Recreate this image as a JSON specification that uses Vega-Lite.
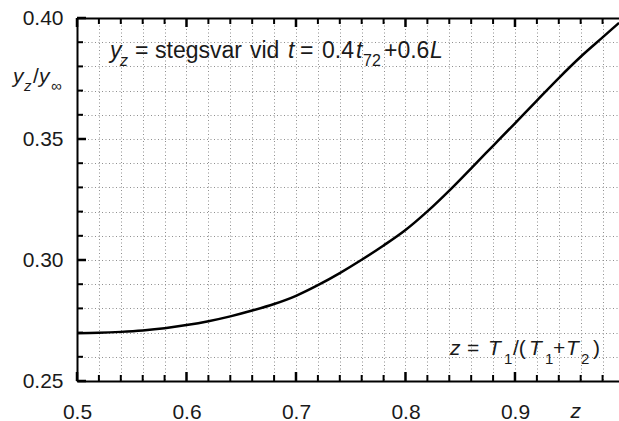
{
  "$schema": "https://vega.github.io/schema/vega-lite/v6.json",
  "width": 542,
  "height": 363,
  "autosize": {"type": "none"},
  "padding": {"left": 77, "top": 18, "right": 0, "bottom": 40},
  "background": "white",
  "config": {
    "view": {"stroke": null},
    "text": {"font": "Liberation Sans", "fontSize": 23, "align": "left", "baseline": "alphabetic", "color": "#1a1a1a"},
    "axis": {
      "labelFont": "Liberation Sans",
      "labelFontSize": 21,
      "labelColor": "#1a1a1a",
      "labelFlush": false,
      "labelOverlap": false,
      "domainColor": "black",
      "domainWidth": 2,
      "gridColor": "#8f8f8f",
      "gridDash": [1, 2.5],
      "gridWidth": 1
    }
  },
  "datasets": {
    "zMajor": [{"v": 0.5}, {"v": 0.6}, {"v": 0.7}, {"v": 0.8}, {"v": 0.9}],
    "zMinor": [{"v": 0.52}, {"v": 0.54}, {"v": 0.56}, {"v": 0.58}, {"v": 0.62}, {"v": 0.64}, {"v": 0.66}, {"v": 0.68}, {"v": 0.72}, {"v": 0.74}, {"v": 0.76}, {"v": 0.78}, {"v": 0.82}, {"v": 0.84}, {"v": 0.86}, {"v": 0.88}, {"v": 0.92}, {"v": 0.94}, {"v": 0.96}, {"v": 0.98}],
    "rMajor": [{"v": 0.25}, {"v": 0.3}, {"v": 0.35}, {"v": 0.4}],
    "rMinor": [{"v": 0.26}, {"v": 0.27}, {"v": 0.28}, {"v": 0.29}, {"v": 0.31}, {"v": 0.32}, {"v": 0.33}, {"v": 0.34}, {"v": 0.36}, {"v": 0.37}, {"v": 0.38}, {"v": 0.39}]
  },
  "resolve": {"axis": {"x": "independent", "y": "independent"}},
  "layer": [
    {
      "data": {
        "values": [
          {"z": 0.5, "r": 0.2697},
          {"z": 0.52, "r": 0.2699},
          {"z": 0.54, "r": 0.2703},
          {"z": 0.56, "r": 0.2709},
          {"z": 0.58, "r": 0.2718},
          {"z": 0.6, "r": 0.2731},
          {"z": 0.62, "r": 0.2747},
          {"z": 0.64, "r": 0.2767},
          {"z": 0.66, "r": 0.2791},
          {"z": 0.68, "r": 0.2818},
          {"z": 0.7, "r": 0.2852},
          {"z": 0.72, "r": 0.2896},
          {"z": 0.74, "r": 0.2946},
          {"z": 0.76, "r": 0.3001},
          {"z": 0.78, "r": 0.306},
          {"z": 0.8, "r": 0.3124},
          {"z": 0.82, "r": 0.3201},
          {"z": 0.84, "r": 0.3287},
          {"z": 0.86, "r": 0.3379},
          {"z": 0.88, "r": 0.3472},
          {"z": 0.9, "r": 0.3565},
          {"z": 0.92, "r": 0.3659},
          {"z": 0.94, "r": 0.3752},
          {"z": 0.96, "r": 0.384},
          {"z": 0.98, "r": 0.392},
          {"z": 0.995, "r": 0.398}
        ]
      },
      "mark": {"type": "line", "color": "black", "strokeWidth": 2.5, "interpolate": "monotone"},
      "encoding": {
        "x": {
          "field": "z",
          "type": "quantitative",
          "scale": {"domain": [0.5, 0.995], "nice": false, "zero": false},
          "axis": {
            "orient": "bottom",
            "values": [0.5, 0.6, 0.7, 0.8, 0.9],
            "format": ".1f",
            "ticks": false,
            "labelBaseline": "top",
            "labelPadding": 20,
            "grid": false,
            "title": "z",
            "titleFont": "Liberation Sans",
            "titleFontSize": 21,
            "titleFontStyle": "italic",
            "titleFontWeight": "normal",
            "titleColor": "#1a1a1a",
            "titleAlign": "left",
            "titleBaseline": "alphabetic",
            "titleX": 493,
            "titleY": 36
          }
        },
        "y": {
          "field": "r",
          "type": "quantitative",
          "scale": {"domain": [0.25, 0.4], "nice": false, "zero": false},
          "axis": {
            "orient": "left",
            "values": [0.25, 0.3, 0.35, 0.4],
            "format": ".2f",
            "ticks": false,
            "labelBaseline": "middle",
            "labelPadding": 14,
            "grid": false,
            "title": null
          }
        }
      }
    },
    {
      "data": {"name": "zMajor"},
      "mark": {"type": "rule", "color": "black", "strokeWidth": 2.5, "y2Offset": -9},
      "encoding": {"x": {"field": "v", "type": "quantitative", "axis": null}, "y": {"datum": 0.25, "type": "quantitative", "axis": null}, "y2": {"datum": 0.25}}
    },
    {
      "data": {"name": "zMinor"},
      "mark": {"type": "rule", "color": "black", "strokeWidth": 2, "y2Offset": -6},
      "encoding": {"x": {"field": "v", "type": "quantitative", "axis": null}, "y": {"datum": 0.25, "type": "quantitative", "axis": null}, "y2": {"datum": 0.25}}
    },
    {
      "data": {"name": "zMajor"},
      "mark": {"type": "rule", "color": "black", "strokeWidth": 2.5, "y2Offset": 9},
      "encoding": {"x": {"field": "v", "type": "quantitative", "axis": null}, "y": {"datum": 0.4, "type": "quantitative", "axis": null}, "y2": {"datum": 0.4}}
    },
    {
      "data": {"name": "zMinor"},
      "mark": {"type": "rule", "color": "black", "strokeWidth": 2, "y2Offset": 6},
      "encoding": {"x": {"field": "v", "type": "quantitative", "axis": null}, "y": {"datum": 0.4, "type": "quantitative", "axis": null}, "y2": {"datum": 0.4}}
    },
    {
      "data": {"name": "rMajor"},
      "mark": {"type": "rule", "color": "black", "strokeWidth": 2.5, "x2Offset": 9},
      "encoding": {"x": {"datum": 0.5, "type": "quantitative", "axis": null}, "x2": {"datum": 0.5}, "y": {"field": "v", "type": "quantitative", "axis": null}}
    },
    {
      "data": {"name": "rMinor"},
      "mark": {"type": "rule", "color": "black", "strokeWidth": 2, "x2Offset": 6},
      "encoding": {"x": {"datum": 0.5, "type": "quantitative", "axis": null}, "x2": {"datum": 0.5}, "y": {"field": "v", "type": "quantitative", "axis": null}}
    },
    {
      "data": {"values": [{}]},
      "mark": {"type": "text", "text": "y", "fontStyle": "italic", "dx": 0},
      "encoding": {
        "x": {
          "datum": 0.53014,
          "type": "quantitative",
          "axis": {
            "orient": "bottom",
            "values": [0.5, 0.52, 0.54, 0.56, 0.58, 0.6, 0.62, 0.64, 0.66, 0.68, 0.7, 0.72, 0.74, 0.76, 0.78, 0.8, 0.82, 0.84, 0.86, 0.88, 0.9, 0.92, 0.94, 0.96, 0.98],
            "ticks": false,
            "labels": false,
            "domain": false,
            "grid": true,
            "title": null
          }
        },
        "y": {
          "datum": 0.3835,
          "type": "quantitative",
          "axis": {
            "orient": "left",
            "values": [0.25, 0.26, 0.27, 0.28, 0.29, 0.3, 0.31, 0.32, 0.33, 0.34, 0.35, 0.36, 0.37, 0.38, 0.39, 0.4],
            "ticks": false,
            "labels": false,
            "domain": false,
            "grid": true,
            "title": null
          }
        }
      }
    },
    {
      "data": {"values": [{}]},
      "mark": {"type": "text", "text": "z", "fontStyle": "italic", "fontSize": 16, "dx": 10, "dy": 8},
      "encoding": {
        "x": {
          "datum": 0.53014,
          "type": "quantitative",
          "axis": {
            "orient": "bottom",
            "offset": -363,
            "values": [0.5],
            "ticks": false,
            "labels": false,
            "domain": true,
            "grid": false,
            "title": null
          }
        },
        "y": {"datum": 0.3835, "type": "quantitative", "axis": null}
      }
    },
    {
      "data": {"values": [{}]},
      "mark": {"type": "text", "text": "=", "dx": 25},
      "encoding": {"x": {"datum": 0.53014, "type": "quantitative", "axis": null}, "y": {"datum": 0.3835, "type": "quantitative", "axis": null}}
    },
    {
      "data": {"values": [{}]},
      "mark": {"type": "text", "text": "stegsvar", "dx": 45},
      "encoding": {"x": {"datum": 0.53014, "type": "quantitative", "axis": null}, "y": {"datum": 0.3835, "type": "quantitative", "axis": null}}
    },
    {
      "data": {"values": [{}]},
      "mark": {"type": "text", "text": "vid", "dx": 140},
      "encoding": {"x": {"datum": 0.53014, "type": "quantitative", "axis": null}, "y": {"datum": 0.3835, "type": "quantitative", "axis": null}}
    },
    {
      "data": {"values": [{}]},
      "mark": {"type": "text", "text": "t", "fontStyle": "italic", "dx": 178},
      "encoding": {"x": {"datum": 0.53014, "type": "quantitative", "axis": null}, "y": {"datum": 0.3835, "type": "quantitative", "axis": null}}
    },
    {
      "data": {"values": [{}]},
      "mark": {"type": "text", "text": "=", "dx": 190},
      "encoding": {"x": {"datum": 0.53014, "type": "quantitative", "axis": null}, "y": {"datum": 0.3835, "type": "quantitative", "axis": null}}
    },
    {
      "data": {"values": [{}]},
      "mark": {"type": "text", "text": "0.4", "dx": 212},
      "encoding": {"x": {"datum": 0.53014, "type": "quantitative", "axis": null}, "y": {"datum": 0.3835, "type": "quantitative", "axis": null}}
    },
    {
      "data": {"values": [{}]},
      "mark": {"type": "text", "text": "t", "fontStyle": "italic", "dx": 246},
      "encoding": {"x": {"datum": 0.53014, "type": "quantitative", "axis": null}, "y": {"datum": 0.3835, "type": "quantitative", "axis": null}}
    },
    {
      "data": {"values": [{}]},
      "mark": {"type": "text", "text": "72", "fontSize": 16, "dx": 253, "dy": 8},
      "encoding": {"x": {"datum": 0.53014, "type": "quantitative", "axis": null}, "y": {"datum": 0.3835, "type": "quantitative", "axis": null}}
    },
    {
      "data": {"values": [{}]},
      "mark": {"type": "text", "text": "+0.6", "dx": 274},
      "encoding": {"x": {"datum": 0.53014, "type": "quantitative", "axis": null}, "y": {"datum": 0.3835, "type": "quantitative", "axis": null}}
    },
    {
      "data": {"values": [{}]},
      "mark": {"type": "text", "text": "L", "fontStyle": "italic", "dx": 320},
      "encoding": {"x": {"datum": 0.53014, "type": "quantitative", "axis": null}, "y": {"datum": 0.3835, "type": "quantitative", "axis": null}}
    },
    {
      "data": {"values": [{}]},
      "mark": {"type": "text", "text": "z", "fontStyle": "italic", "fontSize": 21, "dx": 0},
      "encoding": {"x": {"datum": 0.84064, "type": "quantitative", "axis": null}, "y": {"datum": 0.26074, "type": "quantitative", "axis": null}}
    },
    {
      "data": {"values": [{}]},
      "mark": {"type": "text", "text": "=", "fontSize": 21, "dx": 17},
      "encoding": {"x": {"datum": 0.84064, "type": "quantitative", "axis": null}, "y": {"datum": 0.26074, "type": "quantitative", "axis": null}}
    },
    {
      "data": {"values": [{}]},
      "mark": {"type": "text", "text": "T", "fontStyle": "italic", "fontSize": 21, "dx": 38},
      "encoding": {"x": {"datum": 0.84064, "type": "quantitative", "axis": null}, "y": {"datum": 0.26074, "type": "quantitative", "axis": null}}
    },
    {
      "data": {"values": [{}]},
      "mark": {"type": "text", "text": "1", "fontSize": 15, "dx": 54, "dy": 9},
      "encoding": {"x": {"datum": 0.84064, "type": "quantitative", "axis": null}, "y": {"datum": 0.26074, "type": "quantitative", "axis": null}}
    },
    {
      "data": {"values": [{}]},
      "mark": {"type": "text", "text": "/(", "fontSize": 21, "dx": 63},
      "encoding": {"x": {"datum": 0.84064, "type": "quantitative", "axis": null}, "y": {"datum": 0.26074, "type": "quantitative", "axis": null}}
    },
    {
      "data": {"values": [{}]},
      "mark": {"type": "text", "text": "T", "fontStyle": "italic", "fontSize": 21, "dx": 79},
      "encoding": {"x": {"datum": 0.84064, "type": "quantitative", "axis": null}, "y": {"datum": 0.26074, "type": "quantitative", "axis": null}}
    },
    {
      "data": {"values": [{}]},
      "mark": {"type": "text", "text": "1", "fontSize": 15, "dx": 95, "dy": 9},
      "encoding": {"x": {"datum": 0.84064, "type": "quantitative", "axis": null}, "y": {"datum": 0.26074, "type": "quantitative", "axis": null}}
    },
    {
      "data": {"values": [{}]},
      "mark": {"type": "text", "text": "+", "fontSize": 21, "dx": 103},
      "encoding": {"x": {"datum": 0.84064, "type": "quantitative", "axis": null}, "y": {"datum": 0.26074, "type": "quantitative", "axis": null}}
    },
    {
      "data": {"values": [{}]},
      "mark": {"type": "text", "text": "T", "fontStyle": "italic", "fontSize": 21, "dx": 116},
      "encoding": {"x": {"datum": 0.84064, "type": "quantitative", "axis": null}, "y": {"datum": 0.26074, "type": "quantitative", "axis": null}}
    },
    {
      "data": {"values": [{}]},
      "mark": {"type": "text", "text": "2", "fontSize": 15, "dx": 131, "dy": 9},
      "encoding": {"x": {"datum": 0.84064, "type": "quantitative", "axis": null}, "y": {"datum": 0.26074, "type": "quantitative", "axis": null}}
    },
    {
      "data": {"values": [{}]},
      "mark": {"type": "text", "text": ")", "fontSize": 21, "dx": 143},
      "encoding": {"x": {"datum": 0.84064, "type": "quantitative", "axis": null}, "y": {"datum": 0.26074, "type": "quantitative", "axis": null}}
    },
    {
      "data": {"values": [{}]},
      "mark": {"type": "text", "text": "y", "fontStyle": "italic", "fontSize": 21, "dx": 0},
      "encoding": {"x": {"datum": 0.44155, "type": "quantitative", "axis": null}, "y": {"datum": 0.37314, "type": "quantitative", "axis": null}}
    },
    {
      "data": {"values": [{}]},
      "mark": {"type": "text", "text": "z", "fontStyle": "italic", "fontSize": 15, "dx": 11, "dy": 8},
      "encoding": {"x": {"datum": 0.44155, "type": "quantitative", "axis": null}, "y": {"datum": 0.37314, "type": "quantitative", "axis": null}}
    },
    {
      "data": {"values": [{}]},
      "mark": {"type": "text", "text": "/", "fontSize": 21, "dx": 20},
      "encoding": {"x": {"datum": 0.44155, "type": "quantitative", "axis": null}, "y": {"datum": 0.37314, "type": "quantitative", "axis": null}}
    },
    {
      "data": {"values": [{}]},
      "mark": {"type": "text", "text": "y", "fontStyle": "italic", "fontSize": 21, "dx": 26},
      "encoding": {"x": {"datum": 0.44155, "type": "quantitative", "axis": null}, "y": {"datum": 0.37314, "type": "quantitative", "axis": null}}
    },
    {
      "data": {"values": [{}]},
      "mark": {"type": "text", "text": "∞", "fontSize": 15, "dx": 38, "dy": 8},
      "encoding": {"x": {"datum": 0.44155, "type": "quantitative", "axis": null}, "y": {"datum": 0.37314, "type": "quantitative", "axis": null}}
    }
  ]
}
